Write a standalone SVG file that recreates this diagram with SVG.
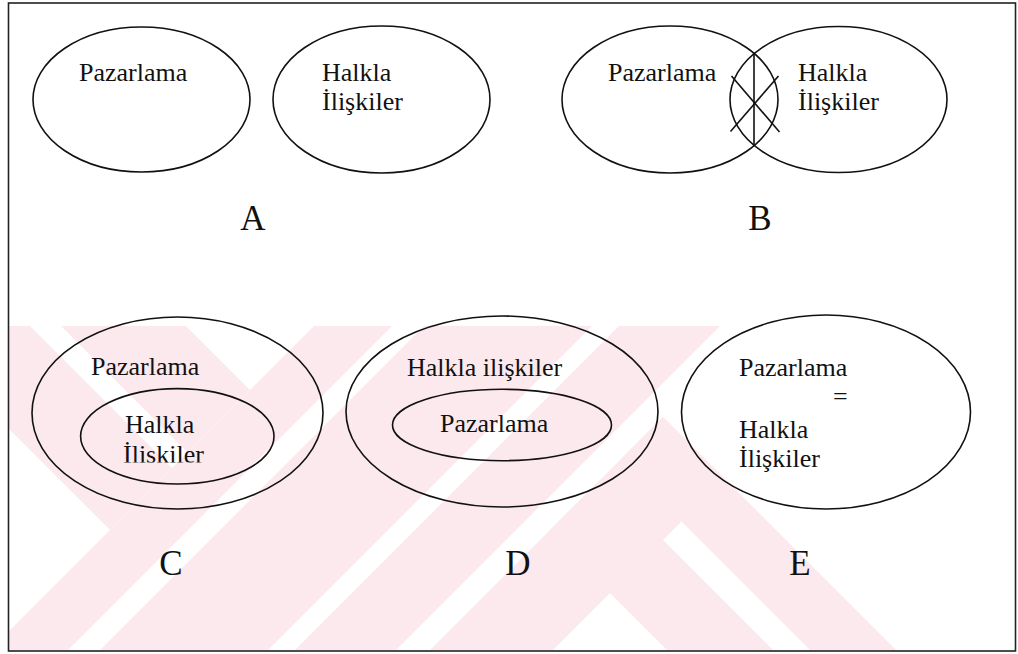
<svg xmlns="http://www.w3.org/2000/svg" width="1018" height="654" viewBox="0 0 1018 654">
<style>
.e{fill:none;stroke:#111;stroke-width:1.6}
.x{stroke:#111;stroke-width:1.6}
.w{fill:#fce9ee}
</style>
<defs>
<clipPath id="wz"><rect x="9" y="326" width="1006" height="324"/></clipPath>
<clipPath id="cc"><rect x="100" y="425" width="150" height="37.5"/></clipPath>
</defs>
<rect width="1018" height="654" fill="#fff"/>
<g id="watermark" class="w" clip-path="url(#wz)">
<polygon points="-94,326 30,326 172,468 110,530"/>
<polygon points="61,326 186,326 250,390 187.5,452.5"/>
<polygon points="314,326 392,326 68,650 -10,650"/>
<polygon points="424,326 592,326 268,650 100,650"/>
<polygon points="619,326 720,326 396,650 295,650"/>
<polygon points="663,417 724.5,478.5 553,650 430,650"/>
<polygon points="548.5,531.5 601.5,478.5 773,650 667,650"/>
<polygon points="620,460 663,417 896,650 810,650"/>
</g>
<rect id="frame" x="8.5" y="3" width="1007" height="648" fill="none" stroke="#222" stroke-width="1.6"/>
<g font-family="Liberation Serif, Times New Roman, serif" font-size="26" fill="#111">
<g id="A">
<ellipse class="e" cx="141.5" cy="99.5" rx="108.5" ry="72.5"/>
<ellipse class="e" cx="381.5" cy="99.5" rx="108.5" ry="73.5"/>
<text x="79" y="81">Pazarlama</text>
<text x="322" y="81">Halkla</text>
<text x="322" y="110">İlişkiler</text>
<text x="253" y="230" font-size="35" text-anchor="middle">A</text>
</g>
<g id="B">
<ellipse class="e" cx="670" cy="99.5" rx="108" ry="73.5"/>
<ellipse class="e" cx="838.5" cy="99.5" rx="108.5" ry="73"/>
<line class="x" x1="754" y1="53.5" x2="754" y2="145.5"/>
<line class="x" x1="731.5" y1="76" x2="779.5" y2="132"/>
<line class="x" x1="730.5" y1="131.5" x2="778.5" y2="76"/>
<text x="608" y="81">Pazarlama</text>
<text x="798" y="81">Halkla</text>
<text x="798" y="110">İlişkiler</text>
<text x="760" y="230" font-size="35" text-anchor="middle">B</text>
</g>
<g id="C">
<ellipse class="e" cx="177.5" cy="413" rx="145.5" ry="96"/>
<ellipse class="e" cx="177.3" cy="436.3" rx="96.7" ry="47.7"/>
<text x="91" y="375">Pazarlama</text>
<text x="125" y="433">Halkla</text>
<text x="123" y="463" clip-path="url(#cc)">İlişkiler</text>
<text x="171" y="575" font-size="35" text-anchor="middle">C</text>
</g>
<g id="D">
<ellipse class="e" cx="502" cy="411.5" rx="156" ry="95.5"/>
<ellipse class="e" cx="502" cy="425" rx="109.5" ry="35.7"/>
<text x="407" y="376">Halkla ilişkiler</text>
<text x="440" y="432">Pazarlama</text>
<text x="518" y="575" font-size="35" text-anchor="middle">D</text>
</g>
<g id="E">
<ellipse class="e" cx="826" cy="412" rx="144.5" ry="97"/>
<text x="739" y="376">Pazarlama</text>
<text x="833" y="405">=</text>
<text x="739" y="438">Halkla</text>
<text x="739" y="467">İlişkiler</text>
<text x="800" y="575" font-size="35" text-anchor="middle">E</text>
</g>
</g>
<g id="connectors"></g>
</svg>
